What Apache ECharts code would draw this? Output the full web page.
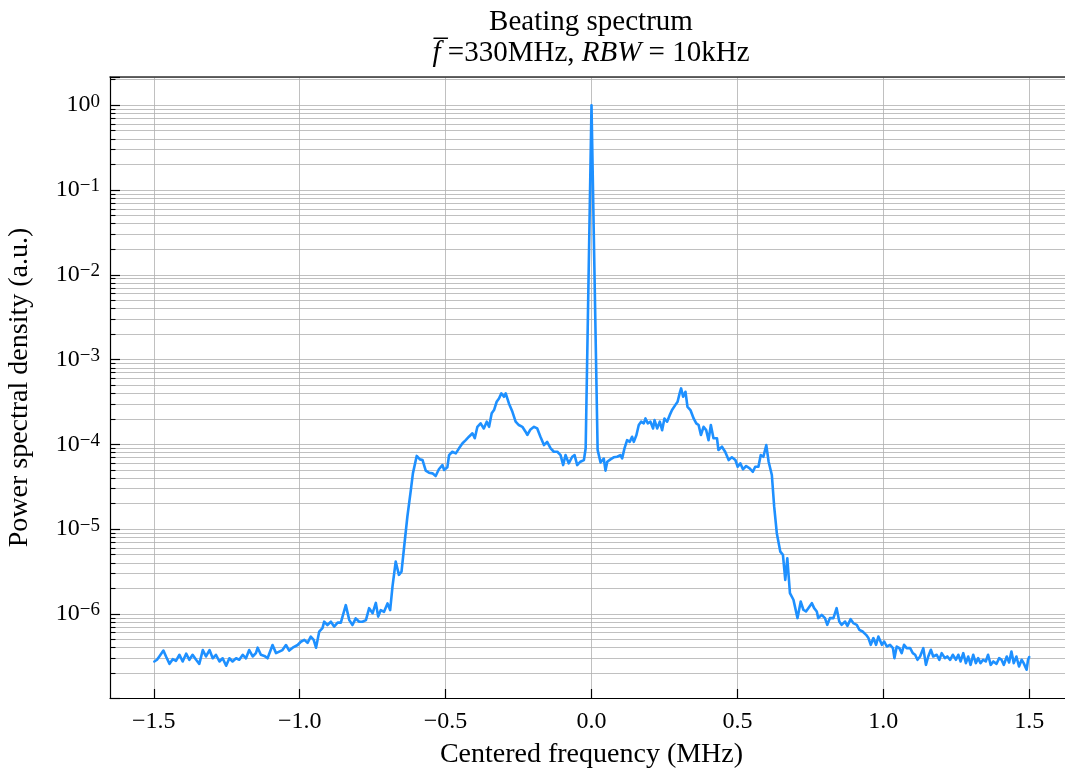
<!DOCTYPE html>
<html>
<head>
<meta charset="utf-8">
<title>Beating spectrum</title>
<script src="https://cdn.jsdelivr.net/npm/echarts@6/dist/echarts.min.js"></script>
<style>
  html, body { margin: 0; padding: 0; background: #ffffff; }
  #chart { width: 1065px; height: 769px; }
</style>
</head>
<body>
<div id="chart"></div>
<script>
// Centered frequency (MHz)
const freq = [
  -1.498, -1.489, -1.481, -1.467, -1.458, -1.446, -1.435, -1.424, -1.412, -1.401,
  -1.389, -1.378, -1.367, -1.355, -1.344, -1.332, -1.321, -1.309, -1.298, -1.287,
  -1.275, -1.264, -1.252, -1.241, -1.230, -1.218, -1.207, -1.195, -1.184, -1.173,
  -1.161, -1.150, -1.144, -1.133, -1.121, -1.110, -1.093, -1.081, -1.070, -1.059,
  -1.047, -1.036, -1.024, -1.007, -0.996, -0.984, -0.973, -0.962, -0.952, -0.944,
  -0.933, -0.922, -0.916, -0.905, -0.893, -0.882, -0.870, -0.859, -0.853, -0.842,
  -0.830, -0.819, -0.808, -0.796, -0.785, -0.773, -0.762, -0.750, -0.739, -0.731,
  -0.722, -0.711, -0.699, -0.690, -0.682, -0.671, -0.660, -0.651, -0.642, -0.631,
  -0.619, -0.612, -0.599, -0.588, -0.579, -0.568, -0.557, -0.545, -0.534, -0.523,
  -0.511, -0.505, -0.494, -0.488, -0.477, -0.465, -0.454, -0.442, -0.431, -0.420,
  -0.408, -0.400, -0.391, -0.380, -0.369, -0.359, -0.351, -0.342, -0.334, -0.325,
  -0.317, -0.309, -0.300, -0.294, -0.283, -0.271, -0.260, -0.249, -0.237, -0.226,
  -0.220, -0.209, -0.197, -0.186, -0.175, -0.163, -0.152, -0.140, -0.129, -0.117,
  -0.106, -0.097, -0.089, -0.078, -0.066, -0.058, -0.049, -0.038, -0.026, -0.020,
   0.000,
   0.021, 0.031, 0.042, 0.048, 0.054, 0.065, 0.076, 0.088, 0.099, 0.105,
   0.113, 0.122, 0.131, 0.139, 0.145, 0.154, 0.162, 0.170, 0.179, 0.185,
   0.193, 0.202, 0.211, 0.216, 0.225, 0.234, 0.242, 0.250, 0.259, 0.268,
   0.276, 0.287, 0.295, 0.302, 0.307, 0.314, 0.322, 0.329, 0.339, 0.350,
   0.359, 0.367, 0.375, 0.384, 0.393, 0.401, 0.409, 0.418, 0.430, 0.435,
   0.447, 0.458, 0.470, 0.481, 0.493, 0.501, 0.510, 0.519, 0.530, 0.542,
   0.553, 0.561, 0.572, 0.580, 0.589, 0.599, 0.607, 0.618, 0.626, 0.635,
   0.647, 0.656, 0.664, 0.671, 0.680, 0.692, 0.698, 0.706, 0.717, 0.726,
   0.735, 0.743, 0.755, 0.763, 0.772, 0.777, 0.789, 0.800, 0.808, 0.817,
   0.829, 0.840, 0.849, 0.857, 0.869, 0.877, 0.888, 0.897, 0.909, 0.918,
   0.929, 0.941, 0.949, 0.957, 0.966, 0.975, 0.983, 0.995, 1.003, 1.012,
   1.023, 1.033, 1.038, 1.046, 1.055, 1.063, 1.071, 1.080, 1.092, 1.101,
   1.109, 1.117, 1.126, 1.137, 1.146, 1.154, 1.163, 1.171, 1.183, 1.192,
   1.200, 1.211, 1.219, 1.229, 1.238, 1.249, 1.257, 1.265, 1.274, 1.283,
   1.291, 1.299, 1.308, 1.317, 1.325, 1.333, 1.342, 1.351, 1.359, 1.368,
   1.377, 1.388, 1.397, 1.405, 1.413, 1.423, 1.431, 1.439, 1.447, 1.456,
   1.465, 1.474, 1.481, 1.491, 1.496, 1.500
];

// Power spectral density (a.u.), normalised to the carrier
const psd = [
  2.75e-7, 2.88e-7, 3.15e-7, 3.70e-7, 3.15e-7, 2.58e-7, 2.93e-7, 2.80e-7, 3.30e-7, 2.75e-7,
  3.40e-7, 2.88e-7, 3.30e-7, 2.88e-7, 2.58e-7, 3.75e-7, 3.15e-7, 3.75e-7, 3.00e-7, 3.30e-7,
  2.75e-7, 3.00e-7, 2.45e-7, 3.00e-7, 2.75e-7, 3.00e-7, 2.88e-7, 3.30e-7, 3.00e-7, 3.75e-7,
  3.15e-7, 3.45e-7, 4.00e-7, 3.30e-7, 3.20e-7, 3.00e-7, 4.30e-7, 3.45e-7, 3.60e-7, 3.75e-7,
  4.30e-7, 3.70e-7, 4.00e-7, 4.30e-7, 4.70e-7, 4.95e-7, 4.55e-7, 5.40e-7, 4.95e-7, 4.00e-7,
  6.20e-7, 6.80e-7, 8.10e-7, 7.40e-7, 8.10e-7, 7.10e-7, 7.90e-7, 7.90e-7, 8.10e-7, 1.27e-6,
  8.45e-7, 7.40e-7, 8.85e-7, 8.10e-7, 8.10e-7, 8.45e-7, 1.17e-6, 1.02e-6, 1.35e-6, 9.30e-7,
  1.11e-6, 1.06e-6, 1.33e-6, 1.11e-6, 2.10e-6, 4.14e-6, 2.89e-6, 3.16e-6, 6.20e-6, 1.40e-5,
  2.90e-5, 4.55e-5, 7.30e-5, 6.65e-5, 6.53e-5, 4.89e-5, 4.63e-5, 4.55e-5, 4.23e-5, 5.08e-5,
  5.70e-5, 4.98e-5, 5.36e-5, 7.48e-5, 8.18e-5, 7.83e-5, 8.97e-5, 1.03e-4, 1.12e-4, 1.23e-4,
  1.35e-4, 1.18e-4, 1.61e-4, 1.77e-4, 1.54e-4, 1.85e-4, 1.61e-4, 2.32e-4, 2.54e-4, 3.18e-4,
  3.48e-4, 3.99e-4, 3.64e-4, 3.99e-4, 3.04e-4, 2.42e-4, 1.85e-4, 1.69e-4, 1.61e-4, 1.41e-4,
  1.29e-4, 1.50e-4, 1.61e-4, 1.54e-4, 1.23e-4, 9.80e-5, 1.07e-4, 8.97e-5, 8.18e-5, 8.18e-5,
  7.48e-5, 5.70e-5, 7.48e-5, 5.97e-5, 7.14e-5, 7.48e-5, 5.70e-5, 6.24e-5, 6.53e-5, 9.00e-5,
  1.0,
  8.60e-5, 6.10e-5, 6.80e-5, 4.90e-5, 6.24e-5, 6.65e-5, 7.03e-5, 7.14e-5, 7.48e-5, 6.84e-5,
  8.97e-5, 1.12e-4, 1.07e-4, 1.23e-4, 1.07e-4, 1.29e-4, 1.69e-4, 1.85e-4, 1.77e-4, 2.02e-4,
  1.77e-4, 1.85e-4, 1.54e-4, 1.93e-4, 1.54e-4, 1.85e-4, 1.47e-4, 2.02e-4, 1.85e-4, 2.21e-4,
  2.54e-4, 2.90e-4, 3.18e-4, 3.99e-4, 4.57e-4, 3.64e-4, 4.17e-4, 2.77e-4, 2.54e-4, 2.02e-4,
  1.77e-4, 1.69e-4, 1.29e-4, 1.61e-4, 1.47e-4, 1.12e-4, 1.69e-4, 1.18e-4, 1.18e-4, 8.57e-5,
  9.37e-5, 8.18e-5, 6.53e-5, 7.03e-5, 6.53e-5, 5.45e-5, 5.97e-5, 5.08e-5, 5.55e-5, 5.21e-5,
  4.75e-5, 5.45e-5, 5.45e-5, 7.48e-5, 7.14e-5, 9.80e-5, 6.24e-5, 4.35e-5, 1.84e-5, 8.95e-6,
  5.43e-6, 4.97e-6, 2.52e-6, 4.54e-6, 1.76e-6, 1.47e-6, 1.53e-6, 8.93e-7, 1.40e-6, 1.12e-6,
  1.07e-6, 1.17e-6, 1.34e-6, 1.17e-6, 1.07e-6, 8.93e-7, 9.75e-7, 8.93e-7, 7.44e-7, 8.93e-7,
  8.93e-7, 1.17e-6, 8.14e-7, 7.44e-7, 8.14e-7, 7.24e-7, 8.69e-7, 7.80e-7, 7.44e-7, 6.50e-7,
  6.21e-7, 5.67e-7, 5.19e-7, 4.32e-7, 5.19e-7, 4.32e-7, 5.42e-7, 4.32e-7, 4.73e-7, 4.13e-7,
  4.32e-7, 3.95e-7, 3.01e-7, 4.13e-7, 3.95e-7, 3.45e-7, 4.32e-7, 3.95e-7, 3.95e-7, 3.45e-7,
  3.30e-7, 2.88e-7, 3.15e-7, 3.95e-7, 2.51e-7, 3.15e-7, 3.78e-7, 3.15e-7, 3.30e-7, 2.88e-7,
  3.45e-7, 3.01e-7, 3.15e-7, 2.88e-7, 3.30e-7, 2.88e-7, 3.30e-7, 2.75e-7, 3.45e-7, 2.63e-7,
  3.15e-7, 2.51e-7, 3.30e-7, 2.63e-7, 3.01e-7, 2.63e-7, 2.88e-7, 2.75e-7, 3.30e-7, 2.51e-7,
  2.75e-7, 2.58e-7, 3.01e-7, 2.88e-7, 2.51e-7, 3.15e-7, 2.68e-7, 3.61e-7, 2.63e-7, 3.15e-7,
  2.40e-7, 2.88e-7, 2.63e-7, 2.20e-7, 2.88e-7, 3.10e-7
];

// Axis ranges (data span plus a 5% margin, in log space for the PSD)
const xRange = [-1.65, 1.65];
const yRange = [1.02e-7, 2.15];

const SERIF = "'Liberation Serif', 'DejaVu Serif', 'Times New Roman', serif";
const GRID_GREY = '#b0b0b0';
const LINE_BLUE = '#1e90ff';

const chart = echarts.init(document.getElementById('chart'), null, { renderer: 'canvas' });

function fmtX(v) {
  const r = Math.round(v * 10) / 10;
  if (Math.abs(r - v) > 1e-6) return '';
  const s = Math.abs(r).toFixed(1);
  return r < 0 ? '\u2212' + s : s;
}

function fmtY(v) {
  const e = Math.log10(v);
  const n = Math.round(e);
  if (Math.abs(e - n) > 1e-6) return '';
  const exp = n < 0 ? '\u2212' + Math.abs(n) : String(n);
  return '{b|10}{s|' + exp + '}';
}

const option = {
  backgroundColor: '#ffffff',
  animation: false,
  title: {
    text: '{n|Beating spectrum}\n{i|f\u0305}{n| =330MHz, }{i|RBW}{n| = 10kHz}',
    left: 591,
    top: 7,
    padding: 0,
    textAlign: 'center',
    textStyle: {
      fontWeight: 'normal',
      rich: {
        n: { fontFamily: SERIF, fontSize: 29, fontWeight: 'normal', lineHeight: 31, color: '#000' },
        i: { fontFamily: SERIF, fontSize: 29, fontWeight: 'normal', lineHeight: 31, fontStyle: 'italic', color: '#000' }
      }
    }
  },
  // plot box runs past the right edge of the canvas, so its right spine is cut off
  grid: {
    left: 110, top: 77, width: 963, height: 621,
    containLabel: false, outerBoundsMode: 'none'
  },
  xAxis: [{
    type: 'value',
    min: xRange[0],
    max: xRange[1],
    minInterval: 0.5,
    maxInterval: 0.5,
    name: 'Centered frequency (MHz)',
    nameLocation: 'middle',
    nameGap: 43,
    nameTextStyle: { fontFamily: SERIF, fontSize: 28, color: '#000' },
    axisLine: { show: true, onZero: false, lineStyle: { color: '#000', width: 1.2 } },
    axisTick: { show: true, inside: true, length: 9, lineStyle: { color: '#000', width: 1.2 } },
    axisLabel: {
      show: true, margin: 12, fontFamily: SERIF, fontSize: 24, color: '#000',
      showMinLabel: false, showMaxLabel: false, formatter: fmtX
    },
    splitLine: { show: true, lineStyle: { color: GRID_GREY, width: 0.8 } }
  }, {
    type: 'value',
    position: 'top',
    min: xRange[0],
    max: xRange[1],
    axisLine: { show: true, onZero: false, lineStyle: { color: '#333', width: 1.6 } },
    axisTick: { show: false },
    axisLabel: { show: false },
    splitLine: { show: false }
  }],
  yAxis: {
    type: 'log',
    logBase: 10,
    min: yRange[0],
    max: yRange[1],
    name: 'Power spectral density (a.u.)',
    nameLocation: 'middle',
    nameGap: 76,
    nameTextStyle: { fontFamily: SERIF, fontSize: 28, color: '#000' },
    axisLine: { show: true, onZero: false, lineStyle: { color: '#000', width: 1.2 } },
    axisTick: { show: true, inside: true, length: 10, lineStyle: { color: '#000', width: 1.2 } },
    minorTick: { show: true, splitNumber: 9, length: 5.5, lineStyle: { color: '#000', width: 1.1 } },
    axisLabel: {
      show: true, margin: 10, color: '#000',
      showMinLabel: false, showMaxLabel: false,
      formatter: fmtY,
      rich: {
        b: { fontFamily: SERIF, fontSize: 24, lineHeight: 26, verticalAlign: 'middle', color: '#000' },
        s: { fontFamily: SERIF, fontSize: 19, lineHeight: 16, verticalAlign: 'top', color: '#000' }
      }
    },
    splitLine: { show: true, lineStyle: { color: GRID_GREY, width: 0.8 } },
    minorSplitLine: { show: true, lineStyle: { color: GRID_GREY, width: 0.8 } }
  },
  series: [{
    type: 'line',
    name: 'PSD',
    xAxisIndex: 0,
    showSymbol: false,
    symbol: 'none',
    clip: true,
    lineStyle: { color: LINE_BLUE, width: 2.6, join: 'round', cap: 'round' },
    data: freq.map((f, i) => [f, psd[i]])
  }]
};

chart.setOption(option);
</script>
</body>
</html>
